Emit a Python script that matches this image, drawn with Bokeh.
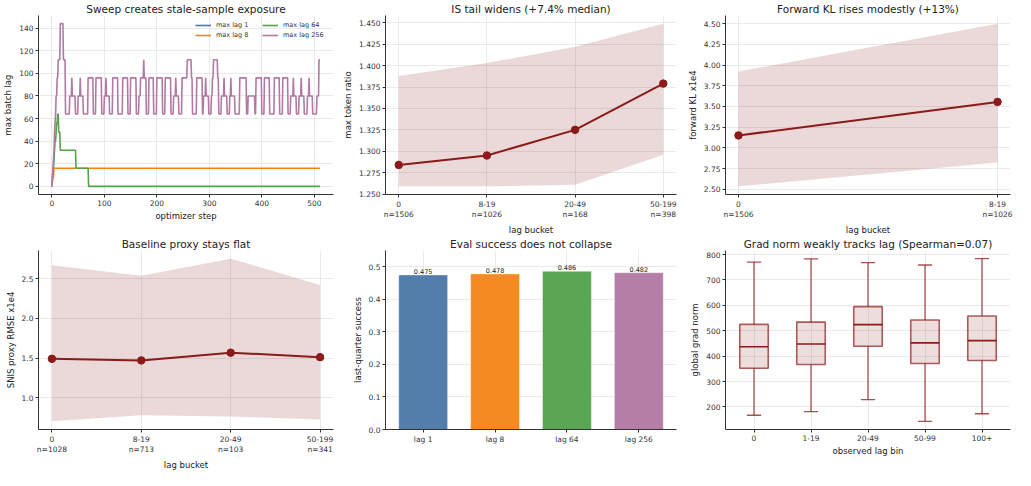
from bokeh.plotting import figure
from bokeh.layouts import gridplot
from bokeh.models import FixedTicker, Range1d, Legend, LegendItem, NumeralTickFormatter, Title
from bokeh.embed import file_html
from bokeh.resources import INLINE
from bokeh.core.properties import value

# ---------------- data ----------------
# panel 1: max batch lag per optimizer step (runs of (value, length))
LAG1_RUNS = [(0, 1)]
LAG8_RUNS = [(0, 1), (4, 1), (8, 2), (16, 508)]
LAG64_RUNS = [(0, 1), (8, 1), (16, 2), (24, 1), (32, 1), (40, 2), (48, 1), (56, 2),
              (64, 2), (48, 3), (32, 30), (16, 24), (0, 442)]
LAG256_RUNS = [
    (0, 1), (8, 1), (16, 1), (24, 1), (32, 1), (48, 1), (56, 1), (64, 1), (80, 2),
    (96, 2), (112, 4), (144, 6), (112, 4), (64, 8),
    (80, 4), (96, 1), (80, 6), (64, 5),
    (80, 4), (96, 1), (80, 5), (64, 9),
    (96, 10), (64, 5), (96, 11), (64, 5),
    (80, 3), (96, 1), (80, 6), (64, 6),
    (96, 10), (64, 9), (96, 10), (64, 5), (96, 11), (64, 5),
    (80, 3), (96, 6), (112, 1), (96, 4), (64, 5),
    (96, 9), (64, 6), (96, 11), (64, 5), (96, 11), (64, 5),
    (80, 4), (96, 1), (80, 5), (64, 6),
    (96, 10), (112, 8), (96, 2), (64, 8),
    (96, 11), (64, 2),
    (80, 4), (96, 1), (80, 5), (64, 5),
    (80, 2), (96, 2), (112, 8), (96, 2), (64, 5),
    (80, 5), (96, 1), (80, 5), (64, 5),
    (80, 2), (96, 1), (80, 7), (64, 9),
    (96, 13), (64, 3), (80, 13), (64, 2),
    (96, 11), (64, 5), (96, 10), (64, 9), (96, 10), (64, 6), (96, 10), (64, 5),
    (80, 5), (96, 1), (80, 5), (64, 5),
    (80, 4), (96, 1), (80, 5), (64, 6),
    (80, 3), (96, 1), (80, 6), (64, 8),
    (80, 4), (112, 3),
]
LAG_NAMES = ["max lag 1", "max lag 8", "max lag 64", "max lag 256"]

# panel 2: IS tail
IS_BUCKETS = ["0", "8-19", "20-49", "50-199"]
IS_N = [1506, 1026, 168, 398]
IS_MED = [1.284, 1.295, 1.325, 1.379]
IS_LO = [1.259, 1.259, 1.261, 1.296]
IS_HI = [1.388, 1.403, 1.422, 1.449]

# panel 3: forward KL x1e4
KL_BUCKETS = ["0", "8-19"]
KL_N = [1506, 1026]
KL_MED = [3.150, 3.555]
KL_LO = [2.535, 2.822]
KL_HI = [3.921, 4.500]

# panel 4: SNIS proxy RMSE x1e4
SN_BUCKETS = ["0", "8-19", "20-49", "50-199"]
SN_N = [1028, 713, 103, 341]
SN_MED = [1.490, 1.470, 1.567, 1.511]
SN_LO = [0.700, 0.777, 0.761, 0.724]
SN_HI = [2.670, 2.540, 2.755, 2.423]

# panel 5: eval success
EV_LABELS = ["lag 1", "lag 8", "lag 64", "lag 256"]
EV_SUCCESS = [0.475, 0.478, 0.486, 0.482]

# panel 6: grad norm box plot
GN_BINS = ["0", "1-19", "20-49", "50-99", "100+"]
GN_LOW = [167, 181, 229, 143, 173]
GN_Q1 = [352, 367, 439, 371, 383]
GN_MED = [437, 448, 524, 452, 461]
GN_Q3 = [525, 534, 595, 542, 558]
GN_HIGH = [770, 783, 768, 759, 784]

# ---------------- style ----------------
FONT = "DejaVu Sans"
DR = "#8B1A1A"
SERIES_COLORS = ["#4C78A8", "#F58518", "#54A24B", "#B279A2"]


def expand(runs):
    return [v for v, n in runs for _ in range(n)]


def pad_range(lo, hi, frac=0.05):
    d = (hi - lo) * frac
    return Range1d(lo - d, hi + d)


def make_fig(title, width, height, left, right, top, bottom, xr, yr):
    p = figure(width=width, height=height, output_backend="svg", toolbar_location=None,
               x_range=xr, y_range=yr, title=title,
               min_border_left=left, min_border_right=right,
               min_border_top=top, min_border_bottom=bottom)
    p.title.text_font = FONT
    p.title.text_font_size = "10.5px"
    p.title.text_font_style = "normal"
    p.title.text_color = "#222222"
    p.title.align = "center"
    p.title.standoff = 1
    p.outline_line_color = None
    p.background_fill_color = "white"
    p.border_fill_color = "white"
    for ax in (p.xaxis[0], p.yaxis[0]):
        ax.axis_line_color = "#333333"
        ax.axis_line_width = 1
        ax.major_tick_line_color = "#333333"
        ax.major_tick_out = 3
        ax.major_tick_in = 0
        ax.minor_tick_line_color = None
        ax.major_label_text_font = FONT
        ax.major_label_text_font_size = "7.5px"
        ax.major_label_text_color = "#333333"
        ax.major_label_standoff = 2
        ax.axis_label_text_font = FONT
        ax.axis_label_text_font_size = "8.5px"
        ax.axis_label_text_font_style = "normal"
        ax.axis_label_text_color = "#222222"
        ax.axis_label_standoff = 3
    for g in (p.xgrid[0], p.ygrid[0]):
        g.grid_line_color = "#e4e4e4"
        g.grid_line_width = 0.8
    return p


def x_title(p, text):
    t = Title(text=text, align="center", text_font=FONT, text_font_size="8.5px",
              text_font_style="normal", text_color="#222222", standoff=1)
    p.add_layout(t, "below")


def bucket_labels(buckets, ns):
    return {i: f"{b}\nn={n}" for i, (b, n) in enumerate(zip(buckets, ns))}


def band_panel(p, med, lo, hi, buckets, ns, xlabel, ylabel, yticks, fmt):
    xs = list(range(len(med)))
    p.varea(x=xs, y1=lo, y2=hi, fill_color=DR, fill_alpha=0.17)
    p.line(xs, med, line_color=DR, line_width=2)
    p.scatter(xs, med, size=7.5, fill_color=DR, line_color=DR)
    p.xaxis.ticker = FixedTicker(ticks=xs)
    p.xaxis.major_label_overrides = bucket_labels(buckets, ns)
    p.yaxis.ticker = FixedTicker(ticks=yticks)
    p.yaxis.formatter = NumeralTickFormatter(format=fmt)
    x_title(p, xlabel)
    p.yaxis.axis_label = ylabel


# ---------------- panel 1 ----------------
series = [expand(r) for r in (LAG1_RUNS, LAG8_RUNS, LAG64_RUNS, LAG256_RUNS)]
nsteps = max(len(s) for s in series)
ymax = max(max(s) for s in series)
p1 = make_fig("Sweep creates stale-sample exposure", 340, 235, 36, 7, 12, 30,
              pad_range(0, nsteps - 1), pad_range(0, ymax))
renderers = []
for vals, col in zip(series, SERIES_COLORS):
    r = p1.line(list(range(len(vals))), vals, line_color=col, line_width=1.6)
    renderers.append(r)
legend = Legend(items=[LegendItem(label=LAG_NAMES[i], renderers=[renderers[i]]) for i in range(4)],
                ncols=2, location="top_right")
legend.label_text_font = FONT
legend.label_text_font_size = "6.5px"
legend.label_text_color = "#333333"
legend.border_line_color = None
legend.background_fill_alpha = 0
legend.glyph_width = 16
legend.glyph_height = 8
legend.label_height = 8
legend.label_width = 44
legend.label_standoff = 5
legend.spacing = 2
legend.padding = 2
legend.margin = 6
p1.add_layout(legend)
p1.xaxis.ticker = FixedTicker(ticks=[0, 100, 200, 300, 400, 500])
p1.yaxis.ticker = FixedTicker(ticks=[0, 20, 40, 60, 80, 100, 120, 140])
x_title(p1, "optimizer step")
p1.yaxis.axis_label = "max batch lag"

# ---------------- panel 2 ----------------
p2 = make_fig("IS tail widens (+7.4% median)", 340, 235, 43, 4, 12, 30,
              pad_range(0, len(IS_MED) - 1), pad_range(min(IS_LO), max(IS_HI)))
band_panel(p2, IS_MED, IS_LO, IS_HI, IS_BUCKETS, IS_N, "lag bucket", "max token ratio",
           [1.25, 1.275, 1.3, 1.325, 1.35, 1.375, 1.4, 1.425, 1.45], "0.000")

# ---------------- panel 3 ----------------
p3 = make_fig("Forward KL rises modestly (+13%)", 335, 235, 45, 5, 12, 30,
              pad_range(0, len(KL_MED) - 1), pad_range(min(KL_LO), max(KL_HI)))
band_panel(p3, KL_MED, KL_LO, KL_HI, KL_BUCKETS, KL_N, "lag bucket", "forward KL x1e4",
           [2.5, 2.75, 3.0, 3.25, 3.5, 3.75, 4.0, 4.25, 4.5], "0.00")

# ---------------- panel 4 ----------------
p4 = make_fig("Baseline proxy stays flat", 340, 235, 36, 7, 12, 30,
              pad_range(0, len(SN_MED) - 1), pad_range(min(SN_LO), max(SN_HI)))
band_panel(p4, SN_MED, SN_LO, SN_HI, SN_BUCKETS, SN_N, "lag bucket", "SNIS proxy RMSE x1e4",
           [1.0, 1.5, 2.0, 2.5], "0.0")

# ---------------- panel 5 ----------------
bw = 0.68
p5 = make_fig("Eval success does not collapse", 340, 235, 43, 4, 12, 30,
              pad_range(-bw / 2, len(EV_SUCCESS) - 1 + bw / 2), Range1d(0, 0.55))
xs5 = list(range(len(EV_SUCCESS)))
p5.vbar(x=xs5, top=EV_SUCCESS, bottom=0, width=bw, fill_color=SERIES_COLORS, fill_alpha=0.96,
        line_color="white", line_alpha=0.5, line_width=0.8)
p5.text(x=xs5, y=EV_SUCCESS, text=[f"{v:.3f}" for v in EV_SUCCESS], text_align="center",
        text_baseline="bottom", y_offset=-1, text_font=value(FONT), text_font_size="6.5px",
        text_color="#222222")
p5.xaxis.ticker = FixedTicker(ticks=xs5)
p5.xaxis.major_label_overrides = {i: l for i, l in enumerate(EV_LABELS)}
p5.yaxis.ticker = FixedTicker(ticks=[0.0, 0.1, 0.2, 0.3, 0.4, 0.5])
p5.yaxis.formatter = NumeralTickFormatter(format="0.0")
p5.yaxis.axis_label = "last-quarter success"

# ---------------- panel 6 ----------------
p6 = make_fig("Grad norm weakly tracks lag (Spearman=0.07)", 335, 235, 45, 5, 12, 30,
              Range1d(-0.5, len(GN_BINS) - 0.5), pad_range(min(GN_LOW), max(GN_HIGH)))
xs6 = list(range(len(GN_BINS)))
boxw = 0.5
capw = 0.25
p6.segment(x0=xs6, y0=GN_Q3, x1=xs6, y1=GN_HIGH, line_color=DR, line_alpha=0.75, line_width=1.3)
p6.segment(x0=xs6, y0=GN_LOW, x1=xs6, y1=GN_Q1, line_color=DR, line_alpha=0.75, line_width=1.3)
p6.segment(x0=[x - capw / 2 for x in xs6], y0=GN_HIGH, x1=[x + capw / 2 for x in xs6], y1=GN_HIGH,
           line_color=DR, line_alpha=0.75, line_width=1.3)
p6.segment(x0=[x - capw / 2 for x in xs6], y0=GN_LOW, x1=[x + capw / 2 for x in xs6], y1=GN_LOW,
           line_color=DR, line_alpha=0.75, line_width=1.3)
p6.vbar(x=xs6, bottom=GN_Q1, top=GN_Q3, width=boxw, fill_color=DR, fill_alpha=0.15,
        line_color=DR, line_alpha=0.7, line_width=1.6)
p6.segment(x0=[x - boxw / 2 for x in xs6], y0=GN_MED, x1=[x + boxw / 2 for x in xs6], y1=GN_MED,
           line_color=DR, line_width=1.6)
p6.xaxis.ticker = FixedTicker(ticks=xs6)
p6.xaxis.major_label_overrides = {i: l for i, l in enumerate(GN_BINS)}
p6.yaxis.ticker = FixedTicker(ticks=[200, 300, 400, 500, 600, 700, 800])
x_title(p6, "observed lag bin")
p6.yaxis.axis_label = "global grad norm"

grid = gridplot([[p1, p2, p3], [p4, p5, p6]], toolbar_location=None)
open("out.html", "w").write(file_html(grid, INLINE))
